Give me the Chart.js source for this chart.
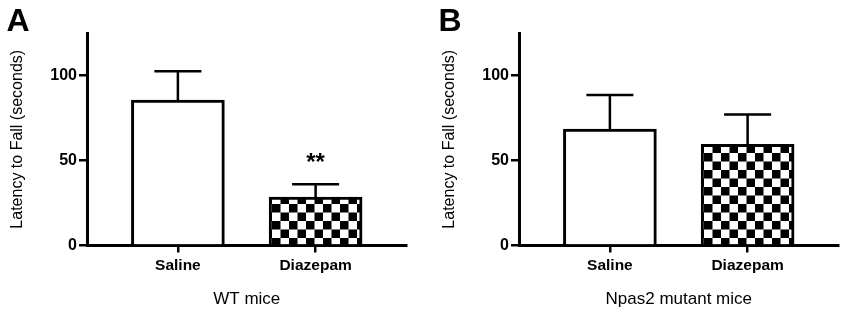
<!DOCTYPE html>
<html>
<head>
<meta charset="utf-8">
<script src="https://cdn.jsdelivr.net/npm/chart.js@4.4.1/dist/chart.umd.min.js"></script>
<style>
    html, body { margin: 0; padding: 0; background: #fff; }
    body { width: 850px; height: 322px; position: relative; overflow: hidden; }
    .panel { position: absolute; top: 0; width: 418px; height: 322px; }
    #panel-a { left: 0; }
    #panel-b { left: 432px; }
</style>
</head>
<body>
<div class="panel" id="panel-a"><canvas id="chart-a"></canvas></div>
<div class="panel" id="panel-b"><canvas id="chart-b"></canvas></div>
<script>
// Data
const categories = ["Saline", "Diazepam"];
const yTicks = [0, 50, 100];
const yMax = 125;

const wtMeans = [85.5, 28.5];
const wtErrors = [17, 7.5];
const wtMarks = ["", "**"];

const npas2Means = [68.5, 59.5];
const npas2Errors = [20, 17.5];
const npas2Marks = ["", ""];

const panelLetters = ["A", "B"];
const xTitles = ["WT mice", "Npas2 mutant mice"];
const yTitle = "Latency to Fall (seconds)";

// Style
const fontFamily = "'Liberation Sans', Arial, Helvetica, sans-serif";
const black = "#000";

// Function
const makeChecker = () => {
    let c = document.createElement("canvas");
    c.width = 17;
    c.height = 17;
    let ctx = c.getContext("2d");
    ctx.fillStyle = "#fff";
    ctx.fillRect(0, 0, 17, 17);
    ctx.fillStyle = black;
    ctx.fillRect(0, 0, 8.5, 8.5);
    ctx.fillRect(8.5, 8.5, 8.5, 8.5);
    return ctx.createPattern(c, "repeat");
};

const errorBarPlugin = {
    id: "errorBars",
    afterDatasetsDraw(chart, args, opts) {
        let ctx = chart.ctx;
        let x = chart.scales.x;
        let y = chart.scales.y;
        ctx.save();
        ctx.strokeStyle = black;
        ctx.lineWidth = 2.5;
        opts.means.forEach((m, i) => {
            let px = x.getPixelForValue(i + 1);
            let top = y.getPixelForValue(m);
            let end = y.getPixelForValue(m + opts.errors[i]);
            ctx.beginPath();
            ctx.moveTo(px, top);
            ctx.lineTo(px, end);
            ctx.moveTo(px - 23.5, end);
            ctx.lineTo(px + 23.5, end);
            ctx.stroke();
            if (opts.marks[i]) {
                ctx.fillStyle = black;
                ctx.font = `bold 24px ${fontFamily}`;
                ctx.textAlign = "center";
                ctx.textBaseline = "middle";
                ctx.fillText(opts.marks[i], px, end - 21);
            }
        });
        ctx.fillStyle = black;
        ctx.font = `bold 32px ${fontFamily}`;
        ctx.textAlign = "left";
        ctx.textBaseline = "alphabetic";
        ctx.fillText(opts.letter, 6.5, 31);
        ctx.restore();
    }
};

const drawPanel = (canvasId, means, errors, marks, letter, xTitle) => {
    let checker = makeChecker();
    new Chart(document.getElementById(canvasId), {
        type: "bar",
        data: {
            datasets: [{
                data: means.map((m, i) => ({x: i + 1, y: m})),
                backgroundColor: ["#fff", checker],
                borderColor: black,
                borderWidth: 3,
                barThickness: 93
            }]
        },
        options: {
            responsive: true,
            maintainAspectRatio: false,
            animation: false,
            events: [],
            layout: {padding: {top: 33, right: 11.5, left: 0, bottom: 0}},
            plugins: {
                legend: {display: false},
                tooltip: {enabled: false},
                errorBars: {means: means, errors: errors, marks: marks, letter: letter}
            },
            scales: {
                x: {
                    type: "linear",
                    min: 0.34,
                    max: 2.66,
                    offset: false,
                    afterBuildTicks: (s) => { s.ticks = categories.map((c, i) => ({value: i + 1})); },
                    afterFit: (s) => { s.height = 76.5; },
                    ticks: {
                        callback: (v) => categories[v - 1] || "",
                        color: black,
                        padding: 4,
                        font: {family: fontFamily, size: 15.5, weight: "bold"},
                        maxRotation: 0,
                        autoSkip: false
                    },
                    grid: {offset: false, drawOnChartArea: false, color: black, lineWidth: 2.5, tickLength: 7},
                    border: {color: black, width: 3},
                    title: {
                        display: true,
                        text: xTitle,
                        color: black,
                        font: {family: fontFamily, size: 17},
                        padding: {top: 0, bottom: 12}
                    }
                },
                y: {
                    min: 0,
                    max: yMax,
                    afterBuildTicks: (s) => { s.ticks = yTicks.map(v => ({value: v})); },
                    afterFit: (s) => { s.width = 87; },
                    ticks: {
                        color: black,
                        padding: 2,
                        font: {family: fontFamily, size: 16, weight: "bold"}
                    },
                    grid: {drawOnChartArea: false, color: black, lineWidth: 2.5, tickLength: 8},
                    border: {color: black, width: 3},
                    title: {
                        display: true,
                        text: yTitle,
                        color: black,
                        font: {family: fontFamily, size: 16},
                        padding: {top: 8, bottom: 0}
                    }
                }
            }
        },
        plugins: [errorBarPlugin]
    });
};

// Init
drawPanel("chart-a", wtMeans, wtErrors, wtMarks, panelLetters[0], xTitles[0]);
drawPanel("chart-b", npas2Means, npas2Errors, npas2Marks, panelLetters[1], xTitles[1]);
</script>
</body>
</html>
